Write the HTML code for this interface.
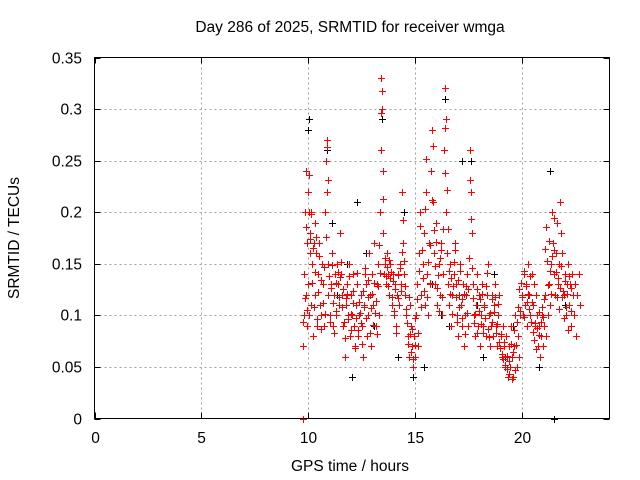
<!DOCTYPE html>
<html><head><meta charset="utf-8"><style>
body{margin:0;background:#fff}
svg{display:block;font-family:"Liberation Sans",sans-serif;font-size:15.5px}
</style></head><body>
<svg id="chart" width="640" height="480" viewBox="0 0 640 480">
<rect x="0" y="0" width="640" height="480" fill="#fff"/>
<g id="grid"></g>
<g id="axes"></g>
<g id="black"></g>
<g id="red"></g>
<rect x="94.5" y="57.5" width="515" height="361" fill="none" stroke="#000" stroke-width="1"/>
<text x="350" y="32" text-anchor="middle">Day 286 of 2025, SRMTID for receiver wmga</text>
<text x="350" y="471" text-anchor="middle">GPS time / hours</text>
<text x="19" y="238" text-anchor="middle" transform="rotate(-90 19 238)">SRMTID / TECUs</text>
</svg>
<script>
const xTicks=[0,5,10,15,20];
const yTicks=[0,0.05,0.1,0.15,0.2,0.25,0.3,0.35];
const yTickLabels=["0","0.05","0.1","0.15","0.2","0.25","0.3","0.35"];
const redT=[9.75,9.75,9.8,9.82,9.85,9.88,9.9,9.93,9.95,9.98,10.0,10.03,10.05,10.08,10.1,10.13,10.15,10.2,10.22,10.25,10.3,10.33,10.35,10.4,10.45,10.5,10.55,10.6,10.65,10.7,10.75,10.8,10.85,10.88,10.9,10.93,10.95,11.0,11.05,11.1,11.15,11.2,11.25,11.3,11.35,11.4,11.45,11.5,11.55,11.6,11.65,11.7,11.75,11.8,11.85,11.9,11.95,12.0,12.05,12.1,12.15,12.2,12.25,12.3,12.35,12.4,12.45,12.5,12.55,12.6,12.65,12.7,12.75,12.8,12.85,12.9,12.95,13.0,13.05,13.1,13.15,13.2,13.25,13.3,13.35,13.4,13.43,13.45,13.48,13.5,13.55,13.6,13.65,13.7,13.75,13.8,13.85,13.9,13.95,14.0,14.05,14.1,14.15,14.2,14.25,14.3,14.35,14.4,14.45,14.5,14.55,14.6,14.65,14.7,14.75,14.8,14.85,14.9,14.95,15.0,15.05,15.1,15.15,15.2,15.25,15.3,15.35,15.4,15.45,15.5,15.55,15.6,15.65,15.7,15.75,15.8,15.85,15.9,15.95,16.0,16.05,16.1,16.15,16.2,16.25,16.3,16.35,16.4,16.43,16.45,16.5,16.55,16.6,16.65,16.7,16.75,16.8,16.85,16.9,16.95,17.0,17.05,17.1,17.15,17.2,17.25,17.3,17.35,17.4,17.45,17.5,17.55,17.6,17.65,17.7,17.75,17.8,17.85,17.9,17.95,18.0,18.05,18.1,18.15,18.2,18.25,18.3,18.35,18.4,18.45,18.5,18.55,18.6,18.65,18.7,18.75,18.8,18.85,18.9,18.95,19.0,19.05,19.1,19.15,19.2,19.25,19.3,19.35,19.4,19.45,19.5,19.55,19.6,19.65,19.7,19.75,19.8,19.85,19.9,20.0,20.05,20.1,20.15,20.2,20.25,20.3,20.35,20.4,20.45,20.5,20.55,20.6,20.65,20.7,20.75,20.8,20.85,20.9,20.95,21.0,21.05,21.1,21.15,21.2,21.25,21.3,21.35,21.4,21.45,21.5,21.55,21.6,21.65,21.7,21.75,21.8,21.85,21.9,21.95,22.0,22.05,22.1,22.15,22.2,22.25,22.3,22.35,22.4,22.45,22.5,22.55,22.6,22.65,22.7];
const redV=[0,0.07,0.1,0.14,0.2,0.12,0.24,0.09,0.17,0.22,0.13,0.2,0.1,0.16,0.18,0.11,0.2,0.15,0.08,0.17,0.19,0.12,0.16,0.09,0.14,0.17,0.11,0.1,0.15,0.13,0.09,0.2,0.25,0.27,0.22,0.15,0.12,0.1,0.13,0.16,0.09,0.12,0.14,0.1,0.15,0.13,0.11,0.18,0.14,0.12,0.09,0.06,0.11,0.13,0.1,0.15,0.08,0.12,0.1,0.14,0.09,0.07,0.11,0.13,0.08,0.1,0.12,0.09,0.06,0.11,0.14,0.13,0.08,0.1,0.16,0.12,0.07,0.14,0.11,0.17,0.09,0.13,0.15,0.1,0.2,0.26,0.33,0.3,0.24,0.18,0.14,0.15,0.13,0.16,0.14,0.12,0.15,0.11,0.14,0.1,0.13,0.09,0.12,0.14,0.11,0.15,0.13,0.22,0.17,0.14,0.12,0.1,0.08,0.06,0.11,0.09,0.07,0.05,0.08,0.06,0.1,0.13,0.07,0.16,0.2,0.12,0.15,0.18,0.11,0.22,0.14,0.1,0.17,0.13,0.24,0.28,0.21,0.16,0.13,0.19,0.11,0.15,0.12,0.17,0.1,0.14,0.26,0.32,0.29,0.2,0.16,0.13,0.11,0.15,0.09,0.12,0.14,0.17,0.13,0.1,0.08,0.12,0.15,0.11,0.09,0.13,0.07,0.1,0.12,0.14,0.09,0.26,0.22,0.18,0.13,0.1,0.08,0.11,0.14,0.09,0.12,0.07,0.1,0.13,0.09,0.11,0.08,0.12,0.15,0.1,0.07,0.09,0.12,0.08,0.11,0.13,0.09,0.07,0.1,0.12,0.08,0.06,0.09,0.07,0.05,0.08,0.06,0.04,0.07,0.05,0.09,0.06,0.04,0.07,0.1,0.05,0.08,0.06,0.1,0.12,0.1,0.14,0.11,0.13,0.09,0.15,0.12,0.1,0.14,0.11,0.13,0.09,0.12,0.1,0.07,0.09,0.06,0.08,0.1,0.07,0.09,0.12,0.08,0.1,0.13,0.11,0.15,0.2,0.17,0.14,0.12,0.16,0.19,0.13,0.15,0.21,0.18,0.16,0.12,0.14,0.1,0.13,0.15,0.11,0.13,0.09,0.14,0.12,0.1,0.13,0.08,0.12,0.14,0.11];
const redT2=[9.78,9.84,9.9,9.96,10.02,10.07,10.12,10.18,10.24,10.28,10.32,10.38,10.42,10.48,10.52,10.58,10.62,10.68,10.72,10.78,10.83,10.87,10.92,10.97,11.02,11.07,11.12,11.17,11.22,11.28,11.32,11.38,11.42,11.48,11.52,11.58,11.62,11.68,11.72,11.78,11.82,11.88,11.92,11.98,12.02,12.08,12.12,12.18,12.22,12.28,12.32,12.38,12.42,12.48,12.52,12.58,12.62,12.68,12.72,12.78,12.82,12.88,12.92,12.98,13.02,13.08,13.12,13.18,13.22,13.28,13.32,13.38,13.42,13.47,13.52,13.58,13.62,13.68,13.72,13.78,13.82,13.88,13.92,13.98,14.02,14.08,14.12,14.18,14.22,14.28,14.32,14.38,14.42,14.48,14.52,14.58,14.62,14.68,14.72,14.78,14.82,14.88,14.92,14.98,15.02,15.08,15.12,15.18,15.22,15.28,15.32,15.38,15.42,15.48,15.52,15.58,15.62,15.68,15.72,15.78,15.82,15.88,15.92,15.98,16.02,16.08,16.12,16.18,16.22,16.28,16.32,16.38,16.42,16.48,16.52,16.58,16.62,16.68,16.72,16.78,16.82,16.88,16.92,16.98,17.02,17.08,17.12,17.18,17.22,17.28,17.32,17.38,17.42,17.48,17.52,17.58,17.62,17.68,17.72,17.78,17.82,17.88,17.92,17.98,18.02,18.08,18.12,18.18,18.22,18.28,18.32,18.38,18.42,18.48,18.52,18.58,18.62,18.68,18.72,18.78,18.82,18.88,18.92,18.98,19.02,19.08,19.12,19.18,19.22,19.28,19.32,19.38,19.42,19.48,19.52,19.58,19.62,19.68,19.72,19.78,19.82,19.88,19.92,19.97,20.02,20.08,20.12,20.18,20.22,20.28,20.32,20.38,20.42,20.48,20.52,20.58,20.62,20.68,20.72,20.78,20.82,20.88,20.92,20.98,21.02,21.08,21.12,21.18,21.22,21.28,21.32,21.38,21.42,21.48,21.52,21.58,21.62,21.68,21.72,21.78,21.82,21.88,21.92,21.98,22.02,22.08,22.12,22.18,22.22,22.28,22.32,22.38,22.42,22.48,22.52,22.58,22.62,22.68];
const redV2=[0.094,0.117,0.186,0.105,0.236,0.174,0.198,0.131,0.165,0.108,0.142,0.176,0.096,0.123,0.158,0.134,0.087,0.112,0.147,0.101,0.176,0.263,0.231,0.138,0.094,0.127,0.149,0.112,0.083,0.131,0.104,0.142,0.118,0.137,0.152,0.108,0.126,0.094,0.078,0.117,0.121,0.096,0.138,0.101,0.086,0.124,0.112,0.068,0.097,0.141,0.086,0.113,0.102,0.093,0.072,0.124,0.108,0.146,0.097,0.118,0.134,0.083,0.107,0.121,0.091,0.131,0.102,0.114,0.082,0.128,0.168,0.141,0.296,0.318,0.213,0.156,0.138,0.147,0.128,0.154,0.136,0.142,0.118,0.133,0.104,0.126,0.083,0.139,0.117,0.146,0.124,0.161,0.192,0.153,0.128,0.106,0.093,0.072,0.118,0.082,0.064,0.087,0.058,0.071,0.097,0.116,0.083,0.143,0.187,0.108,0.163,0.136,0.124,0.203,0.252,0.118,0.152,0.168,0.131,0.212,0.264,0.183,0.148,0.171,0.127,0.139,0.104,0.156,0.163,0.118,0.184,0.238,0.282,0.222,0.184,0.143,0.121,0.136,0.101,0.128,0.152,0.163,0.118,0.094,0.134,0.108,0.143,0.097,0.116,0.121,0.082,0.128,0.102,0.126,0.156,0.231,0.193,0.146,0.117,0.093,0.101,0.126,0.083,0.104,0.116,0.092,0.121,0.083,0.108,0.097,0.128,0.141,0.087,0.079,0.102,0.116,0.094,0.103,0.118,0.083,0.092,0.111,0.074,0.068,0.082,0.063,0.058,0.074,0.052,0.048,0.061,0.043,0.056,0.072,0.038,0.064,0.086,0.047,0.071,0.094,0.108,0.126,0.104,0.131,0.118,0.143,0.098,0.128,0.113,0.121,0.106,0.138,0.094,0.113,0.084,0.076,0.093,0.067,0.088,0.103,0.081,0.094,0.108,0.098,0.116,0.164,0.186,0.153,0.129,0.172,0.143,0.121,0.158,0.194,0.163,0.142,0.118,0.136,0.106,0.127,0.148,0.118,0.124,0.097,0.133,0.108,0.121,0.086,0.138,0.104,0.127];
const blackT=[10.0,10.05,10.9,11.1,11.35,11.8,12.05,12.3,12.7,13.1,13.45,14.2,14.5,14.9,15.4,15.8,16.2,16.4,16.6,17.2,17.6,17.9,18.2,18.7,19.2,19.6,20.3,20.8,21.3,21.5,22.0];
const blackV=[0.28,0.29,0.26,0.19,0.12,0.15,0.04,0.21,0.16,0.09,0.29,0.06,0.2,0.04,0.05,0.13,0.1,0.31,0.09,0.25,0.25,0.11,0.06,0.14,0.06,0.09,0.12,0.05,0.24,0.0,0.11];

const X0=94.5,X1=609.5,Y0=418.5,Y1=57.5,XMAX=24.1,YMAX=0.35;
function sx(t){return X0+(X1-X0)*t/XMAX;}
function sy(v){return Y0-(Y0-Y1)*v/YMAX;}
const NS="http://www.w3.org/2000/svg";
function mk(tag,attrs,parent){const e=document.createElementNS(NS,tag);for(const k in attrs)e.setAttribute(k,attrs[k]);parent.appendChild(e);return e;}
const grid=document.getElementById('grid'),axes=document.getElementById('axes');
xTicks.forEach((t,i)=>{
  const x=Math.round(sx(t))+0.5;
  if(t>0){const g=mk('line',{x1:x,x2:x,y1:Y1,y2:Y0,stroke:'#a0a0a0','stroke-dasharray':'2,3'},grid);
  
  }
  const tk=mk('path',{d:`M${x},${Y0}v-6M${x},${Y1}v6`,stroke:'#000'},axes);
  
  
  const lb=mk('text',{x:x,y:443,'text-anchor':'middle'},axes);lb.textContent=String(t);
  
  
});
yTicks.forEach((v,i)=>{
  const y=Math.round(sy(v))+0.5;
  if(v>0&&v<YMAX){const g=mk('line',{x1:X0,x2:X1,y1:y,y2:y,stroke:'#a0a0a0','stroke-dasharray':'2,3'},grid);
  
  }
  const tk=mk('path',{d:`M${X0},${y}h6M${X1},${y}h-6`,stroke:'#000'},axes);
  
  
  const lb=mk('text',{x:82,y:y+5,'text-anchor':'end'},axes);lb.textContent=yTickLabels[i];
  
  
});
function plot(ts,vs,color,g,name){
  ts.forEach((t,i)=>{
    const x=Math.round(sx(t))+0.5,y=Math.round(sy(vs[i]))+0.5;
    const p=mk('path',{d:`M${x-3.5},${y}h7M${x},${y-3.5}v7`,stroke:color,'stroke-width':1},g);
    
    
  });
}
plot(blackT,blackV,'#000',document.getElementById('black'),'black-point');
plot(redT,redV,'#ff0000',document.getElementById('red'),'red-point');
plot(redT2,redV2,'#ff0000',document.getElementById('red'),'red-point');
</script>
</body></html>
